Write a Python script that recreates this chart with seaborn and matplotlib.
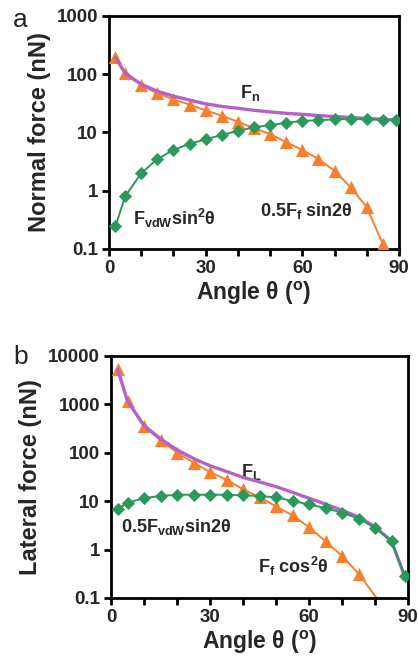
import numpy as np
import pandas as pd
import matplotlib
matplotlib.use("Agg")
import matplotlib.pyplot as plt
import seaborn as sns

# ---------------- data: panel a (normal force) ----------------
a_ff_angle = [2, 5, 10, 15, 20, 25, 30, 35, 40, 45, 50, 55, 60, 65, 70, 75, 80, 85]
a_ff_val = [194, 103, 65, 47, 37, 30, 24, 19.4, 15.3, 11.8, 9.4, 6.8, 5.0, 3.5, 2.2, 1.14, 0.52, 0.12]
a_ff_ext_angle = [86.5]
a_ff_ext_val = [0.07]

a_vdw_angle = [2, 5, 10, 15, 20, 25, 30, 35, 40, 45, 50, 55, 60, 65, 70, 75, 80, 85, 89]
a_vdw_val = [0.244, 0.80, 2.0, 3.5, 5.0, 6.4, 7.6, 9.1, 10.6, 12.3, 13.4, 14.7, 15.8, 16.2, 16.8, 17.0, 17.0, 16.5, 16.3]

a_tot_angle = [2, 5, 10, 15, 20, 25, 30, 35, 40, 45, 50, 55, 60, 65, 70, 75, 80, 85, 89]
a_tot_val = [192, 104, 67, 51, 42, 36, 31, 28, 26, 24, 22.5, 21.3, 20.5, 19.5, 18.8, 18.0, 17.4, 16.8, 16.4]

# ---------------- data: panel b (lateral force) ----------------
b_ff_angle = [2, 5, 10, 15, 20, 25, 30, 35, 40, 45, 50, 55, 60, 65, 70, 75]
b_ff_val = [5300, 1157, 352, 181, 101, 62.5, 40, 27.8, 17.6, 12.2, 7.8, 5.1, 2.9, 1.48, 0.74, 0.32]
b_ff_ext_angle = [80.5]
b_ff_ext_val = [0.1]

b_vdw_angle = [2, 5, 10, 15, 20, 25, 30, 35, 40, 45, 50, 55, 60, 65, 70, 75, 80, 85, 89]
b_vdw_val = [6.8, 9.3, 11.6, 12.8, 13.6, 13.6, 13.6, 13.6, 13.2, 12.8, 12.0, 10.1, 8.6, 7.2, 5.8, 4.35, 2.84, 1.48, 0.28]

b_tot_angle = [2, 5, 10, 15, 20, 25, 30, 35, 40, 45, 50, 55, 60, 65, 70, 75, 80, 85, 89]
b_tot_val = [5300, 1170, 364, 194, 115, 76, 54, 41, 31, 25, 20, 15.2, 11.5, 8.7, 6.5, 4.7, 2.95, 1.5, 0.28]

x_ticks = [0, 10, 20, 30, 40, 50, 60, 70, 80, 90]
x_ticklabels = ["0", "", "", "30", "", "", "60", "", "", "90"]
a_yticks = [0.1, 1, 10, 100, 1000]
a_yticklabels = ["0.1", "1", "10", "100", "1000"]
b_yticks = [0.1, 1, 10, 100, 1000, 10000]
b_yticklabels = ["0.1", "1", "10", "100", "1000", "10000"]

ORANGE = "#F7802C"
GREEN = "#2A9A5C"
PURPLE = "#B562C6"

sns.set_theme(style="white")
plt.rcParams["font.family"] = ["Liberation Sans", "DejaVu Sans"]
plt.rcParams["font.weight"] = "bold"
plt.rcParams["mathtext.fontset"] = "custom"
plt.rcParams["mathtext.rm"] = "Liberation Sans:bold"
plt.rcParams["mathtext.it"] = "Liberation Sans:bold"
plt.rcParams["mathtext.bf"] = "Liberation Sans:bold"

fig = plt.figure(figsize=(4.18, 6.62), dpi=100)
ax_a = fig.add_axes([0.2608, 0.6239, 0.6938, 0.352])
ax_b = fig.add_axes([0.2656, 0.0967, 0.7105, 0.3656])


def draw(ax, ff_a, ff_v, ffx_a, ffx_v, vdw_a, vdw_v, tot_a, tot_v):
    # orange line + triangles
    sns.lineplot(x=ff_a + ffx_a, y=ff_v + ffx_v, ax=ax, color=ORANGE, lw=1.4,
                 zorder=2, estimator=None, sort=False)
    sns.scatterplot(x=ff_a, y=ff_v, ax=ax, color=ORANGE, marker="^", s=90,
                    linewidth=0, zorder=3)
    # purple total line
    sns.lineplot(x=tot_a, y=tot_v, ax=ax, color=PURPLE, lw=2.4, zorder=4,
                 estimator=None, sort=False)
    # green line + diamonds
    sns.lineplot(x=vdw_a, y=vdw_v, ax=ax, color=GREEN, lw=1.4, zorder=5,
                 estimator=None, sort=False)
    sns.scatterplot(x=vdw_a, y=vdw_v, ax=ax, color=GREEN, marker="D", s=45,
                    linewidth=0, zorder=6)


draw(ax_a, a_ff_angle, a_ff_val, a_ff_ext_angle, a_ff_ext_val,
     a_vdw_angle, a_vdw_val, a_tot_angle, a_tot_val)
draw(ax_b, b_ff_angle, b_ff_val, b_ff_ext_angle, b_ff_ext_val,
     b_vdw_angle, b_vdw_val, b_tot_angle, b_tot_val)

for ax, yt, ytl, ylim, ylab in [
    (ax_a, a_yticks, a_yticklabels, (0.1, 1000), "Normal force (nN)"),
    (ax_b, b_yticks, b_yticklabels, (0.1, 10000), "Lateral force (nN)"),
]:
    ax.set_yscale("log")
    ax.set_xlim(0, 90)
    ax.set_ylim(*ylim)
    ax.set_xticks(x_ticks)
    ax.set_xticklabels(x_ticklabels, fontsize=13.5, fontweight="bold")
    ax.set_yticks(yt)
    ax.set_yticklabels(ytl, fontsize=13.5, fontweight="bold")
    ax.yaxis.set_minor_locator(matplotlib.ticker.NullLocator())
    ax.tick_params(axis="both", which="major", direction="out", length=5,
                   width=2, color="black", pad=3, left=True, bottom=True)
    for sp in ax.spines.values():
        sp.set_visible(True)
        sp.set_color("black")
        sp.set_linewidth(2)
    ax.set_xlabel("Angle θ ($\\mathregular{^o}$)", fontsize=16.5,
                  fontweight="bold", labelpad=2)
    ax.set_ylabel(ylab, fontsize=17, fontweight="bold", labelpad=4)
    ax.grid(False)

# annotations panel a
ax_a.text(40.5, 48, "F$_\\mathregular{n}$", fontsize=13, fontweight="bold",
          ha="left", va="center")
ax_a.text(7.5, 0.34, "F$_\\mathregular{vdW}$sin$^\\mathregular{2}$θ", fontsize=13,
          fontweight="bold", ha="left", va="center")
ax_a.text(47, 0.44, "0.5F$_\\mathregular{f}$ sin2θ", fontsize=13,
          fontweight="bold", ha="left", va="center")

# annotations panel b
ax_b.text(39.5, 40, "F$_\\mathregular{L}$", fontsize=13, fontweight="bold",
          ha="left", va="center")
ax_b.text(3, 2.9, "0.5F$_\\mathregular{vdW}$sin2θ", fontsize=13,
          fontweight="bold", ha="left", va="center")
ax_b.text(44.5, 0.44, "F$_\\mathregular{f}$ cos$^\\mathregular{2}$θ", fontsize=13,
          fontweight="bold", ha="left", va="center")

fig.text(13 / 418, 1 - 20 / 662, "a", fontsize=19, fontweight="normal",
         ha="left", va="center")
fig.text(13 / 418, 1 - 357 / 662, "b", fontsize=19, fontweight="normal",
         ha="left", va="center")

fig.savefig("out.png", dpi=100)
